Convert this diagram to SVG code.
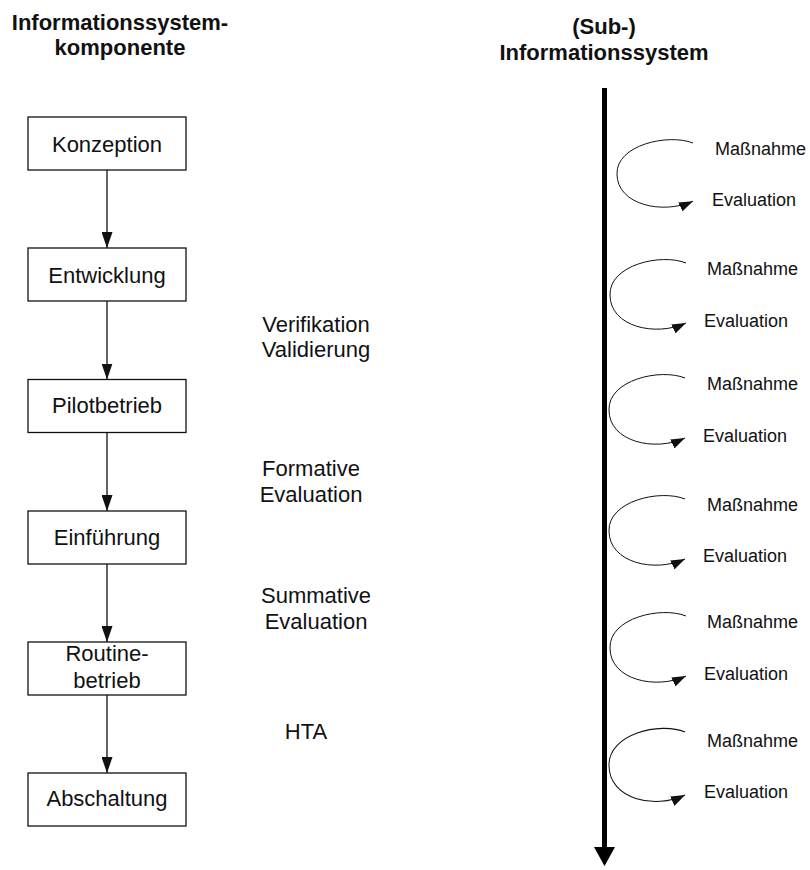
<svg xmlns="http://www.w3.org/2000/svg" width="810" height="870" viewBox="0 0 810 870">
<style>
text{font-family:"Liberation Sans",Arial,sans-serif;fill:#111}
.hd{font-size:22px;font-weight:bold;text-anchor:middle}
.bx rect{fill:#fff;stroke:#111;stroke-width:1.3}
.bx text{font-size:22px;text-anchor:middle}
.mid{font-size:22px;text-anchor:middle}
.lp{font-size:18px}
.conn{stroke:#111;stroke-width:1.3;fill:none}
.loop{stroke:#111;stroke-width:1;fill:none}
</style>
<defs>
<marker id="ah" markerUnits="userSpaceOnUse" markerWidth="16" markerHeight="11" refX="16" refY="5.5" orient="auto">
<path d="M0,0 L16,5.5 L0,11 z" fill="#111"/>
</marker>
<marker id="lh" markerUnits="userSpaceOnUse" markerWidth="14" markerHeight="10" refX="14" refY="5" orient="auto">
<path d="M0,0 L14,5 L0,10 z" fill="#111"/>
</marker>
<path id="loopShape" d="M0,0 C-25,-10 -77,2 -76,32 C-76,64 -30,74 0,60"/>
</defs>

<g id="header-left">
<text class="hd" x="120" y="30">Informationssystem-</text>
<text class="hd" x="120" y="55">komponente</text>
</g>
<g id="header-right">
<text class="hd" x="604" y="34">(Sub-)</text>
<text class="hd" x="604" y="60">Informationssystem</text>
</g>

<g id="konzeption" class="bx"><rect x="28" y="117" width="158" height="53"/><text x="107" y="151.5">Konzeption</text></g>
<g id="entwicklung" class="bx"><rect x="28" y="248" width="158" height="53"/><text x="107" y="282.5">Entwicklung</text></g>
<g id="pilotbetrieb" class="bx"><rect x="28" y="379.5" width="158" height="53"/><text x="107" y="413">Pilotbetrieb</text></g>
<g id="einfuehrung" class="bx"><rect x="28" y="511" width="158" height="53"/><text x="107" y="544.5">Einführung</text></g>
<g id="routinebetrieb" class="bx"><rect x="28" y="642" width="158" height="53"/><text x="107" y="660.5">Routine-</text><text x="107" y="688">betrieb</text></g>
<g id="abschaltung" class="bx"><rect x="28" y="773" width="158" height="53"/><text x="107" y="806">Abschaltung</text></g>

<g id="label-verifikation"><text class="mid" x="316" y="332">Verifikation</text><text class="mid" x="316" y="357">Validierung</text></g>
<g id="label-formative"><text class="mid" x="311" y="476">Formative</text><text class="mid" x="311" y="502">Evaluation</text></g>
<g id="label-summative"><text class="mid" x="316" y="603">Summative</text><text class="mid" x="316" y="629">Evaluation</text></g>
<g id="label-hta"><text class="mid" x="306" y="739">HTA</text></g>

<g id="connectors">
<line class="conn" x1="107" y1="170" x2="107" y2="248" marker-end="url(#ah)"/>
<line class="conn" x1="107" y1="301" x2="107" y2="379.5" marker-end="url(#ah)"/>
<line class="conn" x1="107" y1="432.5" x2="107" y2="511" marker-end="url(#ah)"/>
<line class="conn" x1="107" y1="564" x2="107" y2="642" marker-end="url(#ah)"/>
<line class="conn" x1="107" y1="695" x2="107" y2="773" marker-end="url(#ah)"/>
<g id="timeline">
<rect x="602" y="88" width="5" height="760" fill="#000"/>
<polygon points="594,847 615,847 604.5,866" fill="#000"/>
</g>
<g class="loop">
<use href="#loopShape" transform="translate(693,143) scale(1,0.97)" marker-end="url(#lh)"/>
<use href="#loopShape" transform="translate(686,263)" marker-end="url(#lh)"/>
<use href="#loopShape" transform="translate(685,378)" marker-end="url(#lh)"/>
<use href="#loopShape" transform="translate(685,499)" marker-end="url(#lh)"/>
<use href="#loopShape" transform="translate(686,616)" marker-end="url(#lh)"/>
<use href="#loopShape" transform="translate(685,732) scale(1,1.05)" marker-end="url(#lh)"/>
</g>
</g>

<g id="loop-labels" class="lp">
<text class="lp" x="715" y="155">Maßnahme</text><text class="lp" x="712" y="206">Evaluation</text>
<text class="lp" x="707" y="275">Maßnahme</text><text class="lp" x="704" y="327">Evaluation</text>
<text class="lp" x="707" y="390">Maßnahme</text><text class="lp" x="703" y="442">Evaluation</text>
<text class="lp" x="707" y="511">Maßnahme</text><text class="lp" x="703" y="562">Evaluation</text>
<text class="lp" x="707" y="628">Maßnahme</text><text class="lp" x="704" y="680">Evaluation</text>
<text class="lp" x="707" y="747">Maßnahme</text><text class="lp" x="704" y="798">Evaluation</text>
</g>
</svg>
